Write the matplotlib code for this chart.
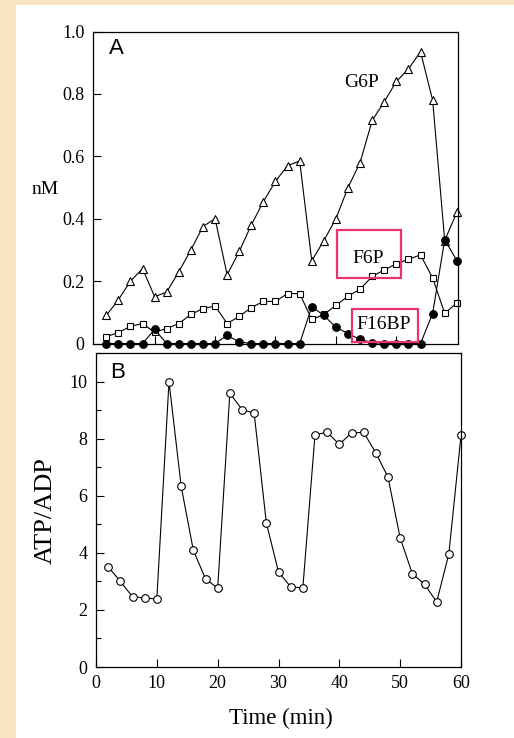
import matplotlib
matplotlib.use("Agg")
import matplotlib.pyplot as plt
from matplotlib.patches import Rectangle
from matplotlib.ticker import MultipleLocator

plt.rcParams['font.family'] = ['Liberation Serif', 'DejaVu Serif']

# === Data ===
time_min = [2, 4, 6, 8, 10, 12, 14, 16, 18, 20, 22, 24, 26, 28, 30,
            32, 34, 36, 38, 40, 42, 44, 46, 48, 50, 52, 54, 56, 58, 60]

g6p = [0.09, 0.14, 0.20, 0.24, 0.15, 0.165, 0.23, 0.30, 0.375, 0.40,
       0.22, 0.295, 0.38, 0.455, 0.52, 0.57, 0.585, 0.265, 0.33, 0.40,
       0.50, 0.58, 0.715, 0.775, 0.84, 0.88, 0.935, 0.78, 0.33, 0.42]

f6p = [0.022, 0.035, 0.055, 0.064, 0.036, 0.048, 0.064, 0.093, 0.112, 0.12,
       0.064, 0.087, 0.115, 0.135, 0.135, 0.16, 0.16, 0.077, 0.093, 0.122,
       0.152, 0.174, 0.215, 0.236, 0.255, 0.27, 0.284, 0.21, 0.097, 0.13]

f16bp = [0, 0, 0, 0, 0.045, 0, 0, 0, 0, 0,
         0.026, 0.005, 0, 0, 0, 0, 0, 0.118, 0.09, 0.052,
         0.032, 0.013, 0.003, 0, 0, 0, 0, 0.096, 0.333, 0.266]

atp_adp = [3.51, 3.0, 2.46, 2.42, 2.38, 10.0, 6.33, 4.09, 3.09, 2.76,
           9.59, 9.02, 8.89, 5.05, 3.33, 2.81, 2.77, 8.14, 8.22, 7.80,
           8.2, 8.22, 7.5, 6.65, 4.52, 3.27, 2.9, 2.28, 3.96, 8.11]

top_yticks = [0, 0.2, 0.4, 0.6, 0.8, 1.0]
top_ylabels = ["0", "0.2", "0.4", "0.6", "0.8", "1.0"]
bot_yticks = [0, 2, 4, 6, 8, 10]
bot_xticks = [0, 10, 20, 30, 40, 50, 60]

# === Figure ===
W, H = 514, 738
fig = plt.figure(figsize=(W / 100, H / 100), dpi=100, facecolor='#f7e5c2')
fig.patches.append(Rectangle((16 / W, 0), 1 - 16 / W, 1 - 5 / H,
                             transform=fig.transFigure, facecolor='white',
                             edgecolor='none', zorder=-1))


def px_axes(l, t, r, b):
    return fig.add_axes([l / W, 1 - b / H, (r - l) / W, (b - t) / H])


ax1 = px_axes(93, 31.5, 458, 343.5)
ax2 = px_axes(96, 353, 461, 667)

line_kw = dict(color='black', lw=0.8, clip_on=False, markeredgewidth=0.8)

ax1.plot(time_min, g6p, marker='^', markersize=5.5, markerfacecolor='white', **line_kw)
ax1.plot(time_min, f6p, marker='s', markersize=5, markerfacecolor='white', **line_kw)
ax1.plot(time_min, f16bp, marker='o', markersize=5.5, markerfacecolor='black', **line_kw)

ax1.set_xlim(-0.2, 60.2)
ax1.set_ylim(0, 1.0)
ax1.set_yticks(top_yticks)
ax1.set_yticklabels(top_ylabels)
ax1.set_xticks([10, 20, 30, 40, 50])
ax1.tick_params(axis='x', labelbottom=False)

ax2.plot(time_min, atp_adp, marker='o', markersize=5.5, markerfacecolor='white', **line_kw)
ax2.set_xlim(0, 60)
ax2.set_ylim(0, 11)
ax2.set_yticks(bot_yticks)
ax2.yaxis.set_minor_locator(MultipleLocator(1))
ax2.set_xticks(bot_xticks)

for ax in (ax1, ax2):
    ax.set_facecolor('none')
    ax.set_zorder(1)
    for sp in ax.spines.values():
        sp.set_linewidth(0.9)
    ax.tick_params(direction='in', length=6, width=0.8, pad=6, labelsize=13,
                   top=False, right=False)
    ax.tick_params(which='minor', direction='in', length=3.5, width=0.8)

# === Labels ===
fs = lambda x, y: (x / W, 1 - y / H)
fig.text(*fs(45, 190), "nM", fontsize=14, ha='center', va='center')
fig.text(*fs(46, 511), "ATP/ADP", fontsize=19, rotation=90, ha='center', va='center')
fig.text(*fs(281, 718), "Time (min)", fontsize=16.5, ha='center', va='center')
fig.text(*fs(116, 48), "A", fontsize=16, family='Liberation Sans', ha='center', va='center')
fig.text(*fs(118, 372), "B", fontsize=16, family='Liberation Sans', ha='center', va='center')

ax1.text(44.3, 0.837, "G6P", fontsize=14, ha='center', va='center')
ax1.text(45.3, 0.274, "F6P", fontsize=14, ha='center', va='center')
ax1.text(47.9, 0.06, "F16BP", fontsize=14, ha='center', va='center')

box_col = '#e8336e'
ax1.add_patch(Rectangle((40.2, 0.21), 10.6, 0.155, fill=False, edgecolor=box_col,
                        lw=1.6, clip_on=False, zorder=5))
ax1.add_patch(Rectangle((42.7, 0.004), 10.8, 0.105, fill=False, edgecolor=box_col,
                        lw=1.6, clip_on=False, zorder=5))

fig.savefig("out.png", dpi=100, facecolor=fig.get_facecolor())
